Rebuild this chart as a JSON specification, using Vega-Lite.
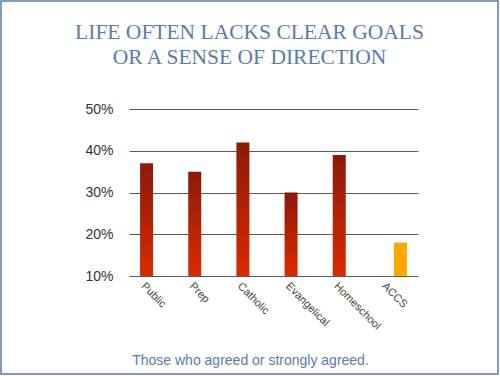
{
  "$schema": "https://vega.github.io/schema/vega-lite/v6.json",
  "width": 497,
  "height": 373,
  "autosize": {"type": "none"},
  "padding": {"left": 1, "top": 1, "right": 2, "bottom": 2},
  "background": "white",
  "title": {
    "text": ["LIFE OFTEN LACKS CLEAR GOALS", "OR A SENSE OF DIRECTION"],
    "font": "Liberation Serif",
    "fontSize": 21.5,
    "fontWeight": "normal",
    "color": "#5b7bab",
    "anchor": "middle",
    "frame": "group",
    "lineHeight": 25,
    "offset": -67
  },
  "data": {
    "values": [
      {"school": "Public", "group": "Other", "share": 0.37},
      {"school": "Prep", "group": "Other", "share": 0.35},
      {"school": "Catholic", "group": "Other", "share": 0.42},
      {"school": "Evangelical", "group": "Other", "share": 0.30},
      {"school": "Homeschool", "group": "Other", "share": 0.39},
      {"school": "ACCS", "group": "ACCS", "share": 0.18}
    ]
  },
  "mark": {"type": "bar"},
  "encoding": {
    "x": {
      "field": "school",
      "type": "nominal",
      "sort": null,
      "scale": {"range": [128, 417], "paddingInner": 0, "paddingOuter": 0},
      "axis": {
        "orient": "bottom",
        "offset": -98,
        "domain": false,
        "ticks": false,
        "labelAngle": 45,
        "labelAlign": "left",
        "labelBaseline": "top",
        "labelPadding": 4,
        "labelOffset": -6,
        "labelFont": "Liberation Sans",
        "labelFontSize": 11,
        "labelColor": "#444444",
        "title": "Those who agreed or strongly agreed.",
        "titleFont": "Liberation Sans",
        "titleFontSize": 14,
        "titleFontWeight": "normal",
        "titleColor": "#5b7bab",
        "titleX": 249,
        "titleY": 84,
        "titleAlign": "center",
        "titleBaseline": "middle"
      }
    },
    "xOffset": {
      "field": "group",
      "type": "nominal",
      "scale": {"domain": ["Other", "ACCS"], "paddingInner": 0, "paddingOuter": 0.85}
    },
    "y": {
      "field": "share",
      "type": "quantitative",
      "scale": {"domain": [0.1, 0.5], "range": [275, 108], "zero": false, "nice": false},
      "axis": {
        "orient": "left",
        "offset": -417,
        "values": [0.1, 0.2, 0.3, 0.4, 0.5],
        "format": ".0%",
        "domain": false,
        "grid": false,
        "tickSize": 289,
        "tickColor": "#5a5a5a",
        "tickWidth": 1,
        "labelPadding": 16,
        "labelFont": "Liberation Sans",
        "labelFontSize": 14,
        "labelColor": "#333333",
        "labelBaseline": "middle",
        "title": null
      }
    },
    "y2": {"datum": 0.1},
    "fill": {
      "condition": {"test": "datum.group === 'ACCS'", "value": "#ffa800"},
      "value": {
        "gradient": "linear",
        "x1": 0, "y1": 0, "x2": 0, "y2": 1,
        "stops": [
          {"offset": 0, "color": "#8a1a09"},
          {"offset": 1, "color": "#da2a00"}
        ]
      }
    }
  },
  "config": {
    "view": {"stroke": "#5b79a8", "strokeWidth": 1.5}
  }
}
